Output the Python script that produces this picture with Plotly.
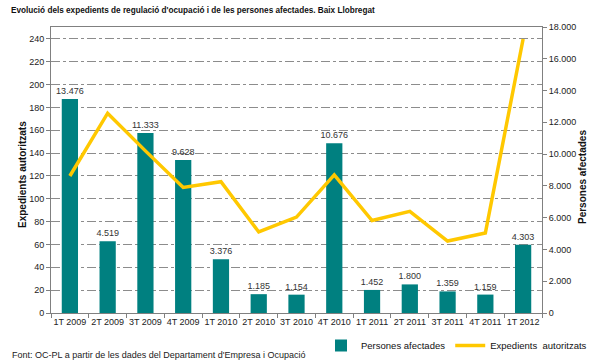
import plotly.graph_objects as go

categories = ["1T 2009", "2T 2009", "3T 2009", "4T 2009", "1T 2010", "2T 2010", "3T 2010",
              "4T 2010", "1T 2011", "2T 2011", "3T 2011", "4T 2011", "1T 2012"]
persones_afectades = [13476, 4519, 11333, 9628, 3376, 1185, 1154, 10676, 1452, 1800, 1359, 1159, 4303]
expedients_autoritzats = [120, 175, 142, 110, 115, 71, 84, 121, 81, 89, 63, 70, 240]
left_ticks = list(range(0, 241, 20))
right_ticks = list(range(0, 18001, 2000))

TEAL = "#008080"
GOLD = "#FFC800"
FONT = "Liberation Sans, Arial, sans-serif"
GRID = "#8c8c8c"

fig = go.Figure()
fig.add_trace(go.Bar(
    x=categories, y=persones_afectades, name="Persones afectades",
    marker=dict(color=TEAL, line=dict(width=0)),
    texttemplate="%{y:,}", textposition="outside", constraintext="none",
    textfont=dict(family=FONT, size=9, color="#333333"),
    cliponaxis=False, yaxis="y",
))
fig.add_trace(go.Scatter(
    x=categories, y=expedients_autoritzats, name="Expedients  autoritzats",
    mode="lines", line=dict(color=GOLD, width=3.5), yaxis="y2",
))

W, H = 609, 363
fig.update_layout(
    width=W, height=H,
    margin=dict(l=51, r=67, t=27, b=50, autoexpand=False),
    paper_bgcolor="white", plot_bgcolor="white",
    separators=",.",
    bargap=0.57,
    font=dict(family=FONT, size=9, color="#222222"),
    showlegend=True,
    legend=dict(orientation="h", xref="container", yref="container",
                x=592 / W, xanchor="right", y=1 - 331 / H, yanchor="top",
                font=dict(family=FONT, size=9.5, color="#111111"),
                itemwidth=30, tracegroupgap=0, bgcolor="rgba(0,0,0,0)"),
    xaxis=dict(
        type="category", showline=True, linecolor="#808080", linewidth=1, mirror=True,
        ticks="outside", tickson="boundaries", ticklen=4, tickcolor="#808080",
        tickangle=0, automargin=False,
        tickfont=dict(family=FONT, size=9, color="#222222"),
        showgrid=False,
    ),
    yaxis=dict(
        side="right", range=[0, 18000], tickvals=right_ticks, tickformat=",",
        showgrid=False, zeroline=False, showline=True, linecolor="#808080",
        ticks="outside", ticklen=4, tickcolor="#808080", automargin=False,
        tickfont=dict(family=FONT, size=9, color="#222222"),
    ),
    yaxis2=dict(
        overlaying="y", side="left", range=[0, 250.5], tickvals=left_ticks,
        showgrid=True, gridcolor=GRID, gridwidth=1, griddash="dashdot",
        zeroline=False, showline=True, linecolor="#808080", automargin=False,
        ticks="outside", ticklen=4, tickcolor="#808080",
        tickfont=dict(family=FONT, size=9, color="#222222"),
    ),
    annotations=[
        dict(text="<b>Evolució dels expedients de regulació d'ocupació i de les persones afectades. Baix Llobregat</b>",
             xref="paper", yref="paper", x=-42/491, y=1 + 17/286, xanchor="left", yanchor="middle",
             showarrow=False, font=dict(family=FONT, size=8.2, color="#111111")),
        dict(text="<b>Expedients autoritzats</b>", textangle=-90,
             xref="paper", yref="paper", x=(22 - 51) / 491, y=(313 - 175) / 286,
             xanchor="center", yanchor="middle", showarrow=False,
             font=dict(family=FONT, size=10, color="#111111")),
        dict(text="<b>Persones afectades</b>", textangle=-90,
             xref="paper", yref="paper", x=(582 - 51) / 491, y=(313 - 177) / 286,
             xanchor="center", yanchor="middle", showarrow=False,
             font=dict(family=FONT, size=10, color="#111111")),
        dict(text="Font: OC-PL a partir de les dades del Departament d'Empresa i Ocupació",
             xref="paper", yref="paper", x=-41/491, y=-(362 - 313) / 286, xanchor="left", yanchor="bottom",
             showarrow=False, font=dict(family=FONT, size=9, color="#222222")),
    ],
)

fig.write_html("out.html", config={"displayModeBar": False},
               post_script="document.body.style.margin='0';document.body.style.padding='0';document.body.style.overflow='hidden';")
